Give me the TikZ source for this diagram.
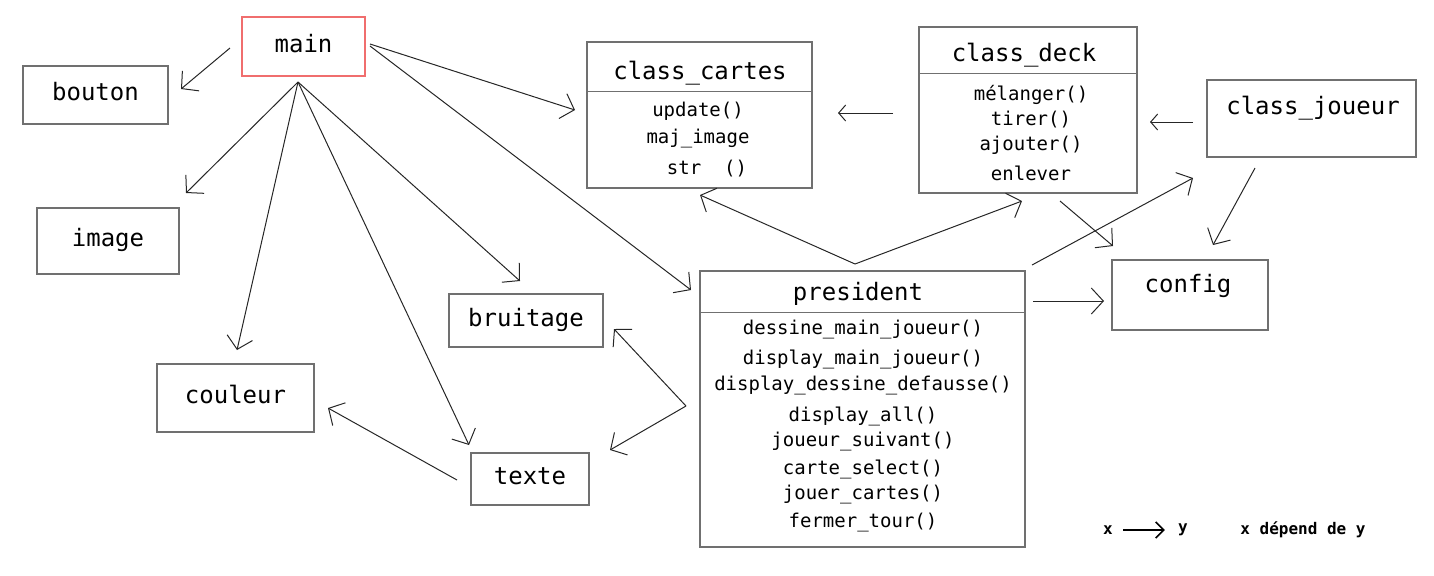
\documentclass[tikz,border=0pt]{standalone}
\usepackage{fontspec}
\setmonofont{DejaVu Sans Mono}
\usetikzlibrary{positioning, arrows.meta}
\definecolor{mainred}{RGB}{240,110,110}
\definecolor{boxgray}{RGB}{112,112,112}
\tikzset{
  box/.style={draw=boxgray, line width=0.8pt, inner sep=0pt, text depth=3.2pt,
    font=\ttfamily\fontsize{12}{14}\selectfont},
  title/.style={inner sep=0pt, font=\ttfamily\fontsize{12}{14}\selectfont},
  meth/.style={inner sep=0pt, font=\ttfamily\fontsize{9.5}{11}\selectfont},
  dep/.style={-{Straight Barb[length=6pt,width=13pt]}, draw=black!85, line width=0.5pt},
  depsmall/.style={dep, -{Straight Barb[length=3.5pt,width=8pt]}},
  legend/.style={inner sep=0pt, font=\ttfamily\bfseries\fontsize{8}{10}\selectfont}
}
\begin{document}
\begin{tikzpicture}[x=0.5pt, y=-0.5pt]
\useasboundingbox (0,0) rectangle (1434,575);

% simple modules
\node[box, draw=mainred, minimum width=61.5pt, minimum height=29.5pt] (main) at (303.5,46.5) {main};
\node[box, minimum width=72.5pt, minimum height=29pt] (bouton) at (95.5,95) {bouton};
\node[box, minimum width=71pt, minimum height=33pt] (image) at (108,241) {image};
\node[box, minimum width=78.5pt, minimum height=34pt] (couleur) at (235.5,398) {couleur};
\node[box, minimum width=77pt, minimum height=26.5pt] (bruitage) at (526,320.5) {bruitage};
\node[box, minimum width=59pt, minimum height=26pt] (texte) at (530,479) {texte};
\node[box, minimum width=104.5pt, minimum height=38.5pt] (joueur) at (1311.5,118.5) {};
\node[title] at (1313,108) {class\_joueur};
\node[box, minimum width=78pt, minimum height=35pt] (config) at (1190,295) {};
\node[title] at (1188,286) {config};

% classes
\node[box, minimum width=112.5pt, minimum height=73pt] (cartes) at (699.5,115) {};
\draw[boxgray, line width=0.5pt] (cartes.west |- 0,91) -- (cartes.east |- 0,91);
\node[title] at (700,73) {class\_cartes};
\foreach \m/\y in {update()/111, maj\_image/139}
  \node[meth] at (698,\y) {\m};
\node[meth] at (707,169) {str\ \ ()};

\node[box, minimum width=109pt, minimum height=83pt] (deck) at (1028,110) {};
\draw[boxgray, line width=0.5pt] (deck.west |- 0,73) -- (deck.east |- 0,73);
\node[title] at (1024,55) {class\_deck};
\foreach \m/\y in {mélanger()/95, tirer()/120, ajouter()/145, enlever/173}
  \node[meth] at (1031,\y) {\m};

\node[box, minimum width=162.5pt, minimum height=138pt] (president) at (862.5,409) {};
\draw[boxgray, line width=0.5pt] (president.west |- 0,312) -- (president.east |- 0,312);
\node[title] at (858,294) {president};
\foreach \m/\y in {dessine\_main\_joueur()/330, display\_main\_joueur()/359,
    display\_dessine\_defausse()/385, display\_all()/416, joueur\_suivant()/442,
    carte\_select()/469, jouer\_cartes()/495, fermer\_tour()/523}
  \node[meth] at (863,\y) {\m};

% connector ends
\coordinate (fan) at (298,82);
\coordinate (m-l) at (230,48);
\coordinate (m-r1) at (370,44);
\coordinate (m-r2) at (370,46);
\coordinate (bt-in) at (181,89);
\coordinate (im-in) at (186,193);
\coordinate (co-in) at (237,350);
\coordinate (tx-in) at (469,445);
\coordinate (br-in) at (520,281);
\coordinate (ca-in) at (575,110);
\coordinate (pr-in) at (691,290);
\coordinate (de-out) at (893,113);
\coordinate (ca-in2) at (838,113);
\coordinate (jo-out1) at (1193,122);
\coordinate (de-in) at (1150,122);
\coordinate (jo-out2) at (1255,168);
\coordinate (cf-in1) at (1213,245);
\coordinate (de-out2) at (1060,201);
\coordinate (cf-in2) at (1113,246);
\coordinate (pr-top) at (855,264);
\coordinate (ca-in3) at (700,195);
\coordinate (de-in2) at (1022,201);
\coordinate (pr-out1) at (1032,265);
\coordinate (jo-in) at (1193,178);
\coordinate (pr-out2) at (1033,301);
\coordinate (cf-in3) at (1104,301);
\coordinate (pr-left) at (686,406);
\coordinate (br-in2) at (614,329);
\coordinate (tx-in2) at (610,450);
\coordinate (tx-out) at (457,480);
\coordinate (co-in2) at (328,408);

% dependencies
\draw[dep] (m-l) -- (bt-in);
\foreach \e in {im-in, co-in, tx-in, br-in}
  \draw[dep] (fan) -- (\e);
\draw[dep] (m-r1) -- (ca-in);
\draw[dep] (m-r2) -- (pr-in);
\draw[depsmall] (de-out) -- (ca-in2);
\draw[depsmall] (jo-out1) -- (de-in);
\draw[dep] (jo-out2) -- (cf-in1);
\draw[dep] (de-out2) -- (cf-in2);
\draw[dep] (pr-top) -- (ca-in3);
\draw[dep] (pr-top) -- (de-in2);
\draw[dep] (pr-out1) -- (jo-in);
\draw[dep] (pr-out2) -- (cf-in3);
\draw[dep] (pr-left) -- (br-in2);
\draw[dep] (pr-left) -- (tx-in2);
\draw[dep] (tx-out) -- (co-in2);

% legend
\node[legend] (lx) at (1108,530) {x};
\node[legend] (ly) at (1183,530) {y};
\draw[-{Straight Barb[length=4pt,width=8pt]}, line width=0.8pt, shorten <=5pt, shorten >=6.5pt] (lx) -- (ly);
\node[legend] (ltext) at (1303,530) {x dépend de y};
\end{tikzpicture}
\end{document}
